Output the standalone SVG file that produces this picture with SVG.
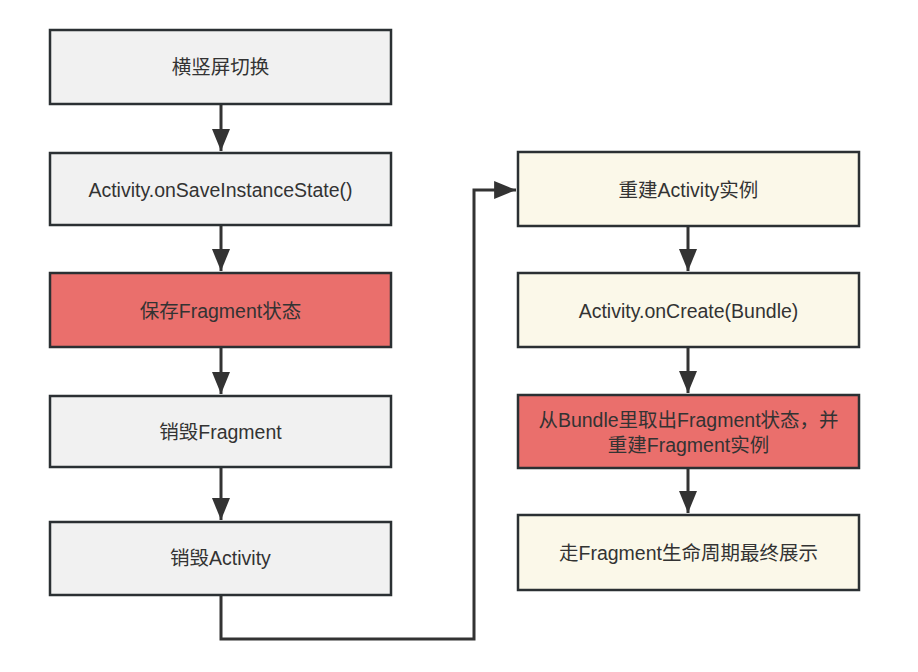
<svg xmlns="http://www.w3.org/2000/svg" width="918" height="672" viewBox="0 0 918 672">
<style>
.box{stroke:#2b3033;stroke-width:2.5}
.g{fill:#f1f1f1}.r{fill:#ea6f6c}.y{fill:#fbf8e9}
text{font-family:"Liberation Sans","Noto Sans CJK SC",sans-serif;font-size:19.5px;fill:#333;text-anchor:middle}
.c{fill:none;stroke:#333;stroke-width:3}
</style>
<defs>
<marker id="ah" markerWidth="8" markerHeight="6" refX="7.3" refY="3" orient="auto" markerUnits="strokeWidth">
<path d="M0,0L7.3,3L0,6z" fill="#333"/>
</marker>
</defs>
<rect width="918" height="672" fill="#fff"/>
<g id="connectors">
<path class="c" d="M221,104V151" marker-end="url(#ah)"/>
<path class="c" d="M221,225V271" marker-end="url(#ah)"/>
<path class="c" d="M221,347V394" marker-end="url(#ah)"/>
<path class="c" d="M221,467V520" marker-end="url(#ah)"/>
<path class="c" d="M221,595V639H474V190H516" marker-end="url(#ah)"/>
<path class="c" d="M688,226V271" marker-end="url(#ah)"/>
<path class="c" d="M688,347V393" marker-end="url(#ah)"/>
<path class="c" d="M688,468V513" marker-end="url(#ah)"/>
</g>
<g id="n1"><rect class="box g" x="50" y="30" width="341" height="74"/><text x="220.5" y="74">横竖屏切换</text></g>
<g id="n2"><rect class="box g" x="50" y="153" width="341" height="72"/><text x="220.5" y="197">Activity.onSaveInstanceState()</text></g>
<g id="n3"><rect class="box r" x="50" y="273" width="341" height="74"/><text x="220.5" y="318">保存Fragment状态</text></g>
<g id="n4"><rect class="box g" x="50" y="396" width="341" height="71"/><text x="220.5" y="439">销毁Fragment</text></g>
<g id="n5"><rect class="box g" x="50" y="522" width="341" height="73"/><text x="220.5" y="565">销毁Activity</text></g>
<g id="n6"><rect class="box y" x="518" y="152" width="341" height="74"/><text x="688.5" y="197">重建Activity实例</text></g>
<g id="n7"><rect class="box y" x="518" y="273" width="341" height="74"/><text x="688.5" y="318">Activity.onCreate(Bundle)</text></g>
<g id="n8"><rect class="box r" x="518" y="395" width="341" height="73"/><text x="688.5" y="427">从Bundle里取出Fragment状态，并</text><text x="688.5" y="452">重建Fragment实例</text></g>
<g id="n9"><rect class="box y" x="518" y="515" width="341" height="75"/><text x="688.5" y="560">走Fragment生命周期最终展示</text></g>
</svg>
